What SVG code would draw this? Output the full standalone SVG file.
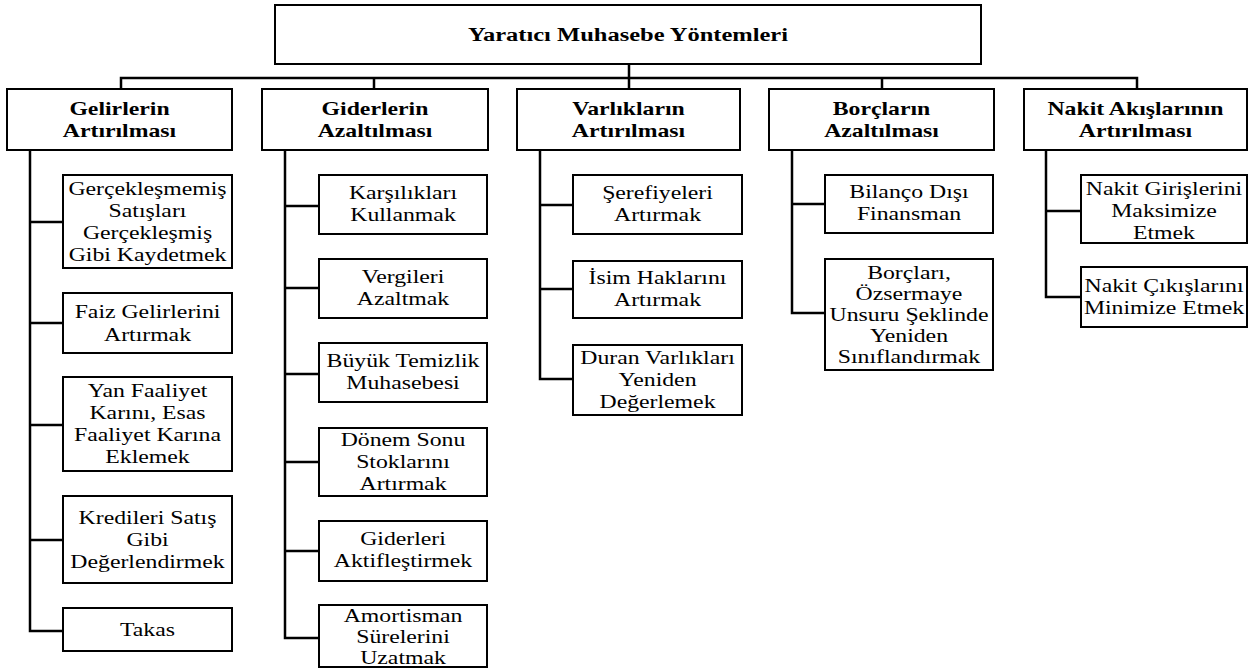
<svg xmlns="http://www.w3.org/2000/svg" width="1250" height="668" viewBox="0 0 1250 668">
<style>
.box{fill:#fff;stroke:#000;stroke-width:2}
.c{fill:none;stroke:#000;stroke-width:2.5}
text{font-family:'Liberation Serif','DejaVu Serif',serif;font-size:19px;fill:#000;text-anchor:middle}
.b{font-weight:bold}
.t{font-size:19.6px}
</style>
<rect width="1250" height="668" fill="#fff"/>
<g id="connectors">
<path class="c" d="M629 64V78M121 89V78H1137V89M374 78V89M629 78V89M882 78V89"/>
<path class="c" d="M30 150V631H63M30 222H63M30 323H63M30 425H63M30 540H63"/>
<path class="c" d="M285 150V638H319M285 206H319M285 288H319M285 374H319M285 462H319M285 551H319"/>
<path class="c" d="M540 150V379H573M540 205H573M540 289H573"/>
<path class="c" d="M792 150V313H825M792 204H825"/>
<path class="c" d="M1046 150V297H1081M1046 211H1081"/>
</g>
<g id="root"><rect class="box" x="275" y="5" width="706" height="59"/><text class="b t" transform="translate(628 0) scale(1.25 1)"><tspan x="0" y="41">Yaratıcı Muhasebe Yöntemleri</tspan></text></g>
<g id="cat1"><rect class="box" x="7" y="89" width="225" height="61"/><text class="b" transform="translate(119.5 0) scale(1.25 1)"><tspan x="0" y="115">Gelirlerin</tspan><tspan x="0" y="137">Artırılması</tspan></text></g>
<g id="cat2"><rect class="box" x="262" y="89" width="226" height="61"/><text class="b" transform="translate(375 0) scale(1.25 1)"><tspan x="0" y="115">Giderlerin</tspan><tspan x="0" y="137">Azaltılması</tspan></text></g>
<g id="cat3"><rect class="box" x="517" y="89" width="223" height="61"/><text class="b" transform="translate(628.5 0) scale(1.25 1)"><tspan x="0" y="115">Varlıkların</tspan><tspan x="0" y="137">Artırılması</tspan></text></g>
<g id="cat4"><rect class="box" x="769" y="89" width="225" height="61"/><text class="b" transform="translate(881.5 0) scale(1.25 1)"><tspan x="0" y="115">Borçların</tspan><tspan x="0" y="137">Azaltılması</tspan></text></g>
<g id="cat5"><rect class="box" x="1024" y="89" width="223" height="61"/><text class="b" transform="translate(1135.5 0) scale(1.25 1)"><tspan x="0" y="115">Nakit Akışlarının</tspan><tspan x="0" y="137">Artırılması</tspan></text></g>

<g id="g1"><rect class="box" x="63" y="175" width="169" height="93"/><text transform="translate(147.5 0) scale(1.25 1)"><tspan x="0" y="195">Gerçekleşmemiş</tspan><tspan x="0" y="217">Satışları</tspan><tspan x="0" y="239">Gerçekleşmiş</tspan><tspan x="0" y="261">Gibi Kaydetmek</tspan></text></g>
<g id="g2"><rect class="box" x="63" y="293" width="169" height="60"/><text transform="translate(147.5 0) scale(1.25 1)"><tspan x="0" y="318">Faiz Gelirlerini</tspan><tspan x="0" y="341">Artırmak</tspan></text></g>
<g id="g3"><rect class="box" x="63" y="377" width="169" height="94"/><text transform="translate(147.5 0) scale(1.25 1)"><tspan x="0" y="397">Yan Faaliyet</tspan><tspan x="0" y="419">Karını, Esas</tspan><tspan x="0" y="441">Faaliyet Karına</tspan><tspan x="0" y="463">Eklemek</tspan></text></g>
<g id="g4"><rect class="box" x="63" y="496" width="169" height="87"/><text transform="translate(147.5 0) scale(1.25 1)"><tspan x="0" y="524">Kredileri Satış</tspan><tspan x="0" y="546">Gibi</tspan><tspan x="0" y="568">Değerlendirmek</tspan></text></g>
<g id="g5"><rect class="box" x="63" y="608" width="169" height="43"/><text transform="translate(147.5 0) scale(1.25 1)"><tspan x="0" y="636">Takas</tspan></text></g>

<g id="d1"><rect class="box" x="319" y="175" width="168" height="59"/><text transform="translate(403 0) scale(1.25 1)"><tspan x="0" y="199">Karşılıkları</tspan><tspan x="0" y="221">Kullanmak</tspan></text></g>
<g id="d2"><rect class="box" x="319" y="259" width="168" height="59"/><text transform="translate(403 0) scale(1.25 1)"><tspan x="0" y="283">Vergileri</tspan><tspan x="0" y="305">Azaltmak</tspan></text></g>
<g id="d3"><rect class="box" x="319" y="343" width="168" height="59"/><text transform="translate(403 0) scale(1.25 1)"><tspan x="0" y="367">Büyük Temizlik</tspan><tspan x="0" y="389">Muhasebesi</tspan></text></g>
<g id="d4"><rect class="box" x="319" y="428" width="168" height="68"/><text transform="translate(403 0) scale(1.25 1)"><tspan x="0" y="446">Dönem Sonu</tspan><tspan x="0" y="468">Stoklarını</tspan><tspan x="0" y="490">Artırmak</tspan></text></g>
<g id="d5"><rect class="box" x="319" y="521" width="168" height="60"/><text transform="translate(403 0) scale(1.25 1)"><tspan x="0" y="545">Giderleri</tspan><tspan x="0" y="567">Aktifleştirmek</tspan></text></g>
<g id="d6"><rect class="box" x="319" y="605" width="168" height="62"/><text transform="translate(403 0) scale(1.25 1)"><tspan x="0" y="622">Amortisman</tspan><tspan x="0" y="643">Sürelerini</tspan><tspan x="0" y="664">Uzatmak</tspan></text></g>

<g id="v1"><rect class="box" x="573" y="175" width="169" height="59"/><text transform="translate(657.5 0) scale(1.25 1)"><tspan x="0" y="199">Şerefiyeleri</tspan><tspan x="0" y="221">Artırmak</tspan></text></g>
<g id="v2"><rect class="box" x="573" y="261" width="169" height="57"/><text transform="translate(657.5 0) scale(1.25 1)"><tspan x="0" y="284">İsim Haklarını</tspan><tspan x="0" y="306">Artırmak</tspan></text></g>
<g id="v3"><rect class="box" x="573" y="345" width="169" height="70"/><text transform="translate(657.5 0) scale(1.25 1)"><tspan x="0" y="364">Duran Varlıkları</tspan><tspan x="0" y="386">Yeniden</tspan><tspan x="0" y="408">Değerlemek</tspan></text></g>

<g id="b1"><rect class="box" x="825" y="175" width="168" height="58"/><text transform="translate(909 0) scale(1.25 1)"><tspan x="0" y="198">Bilanço Dışı</tspan><tspan x="0" y="220">Finansman</tspan></text></g>
<g id="b2"><rect class="box" x="825" y="259" width="168" height="111"/><text transform="translate(909 0) scale(1.25 1)"><tspan x="0" y="279">Borçları,</tspan><tspan x="0" y="300">Özsermaye</tspan><tspan x="0" y="321">Unsuru Şeklinde</tspan><tspan x="0" y="342">Yeniden</tspan><tspan x="0" y="363">Sınıflandırmak</tspan></text></g>

<g id="n1"><rect class="box" x="1081" y="175" width="166" height="68"/><text transform="translate(1164 0) scale(1.25 1)"><tspan x="0" y="195">Nakit Girişlerini</tspan><tspan x="0" y="217">Maksimize</tspan><tspan x="0" y="239">Etmek</tspan></text></g>
<g id="n2"><rect class="box" x="1081" y="267" width="166" height="60"/><text transform="translate(1164 0) scale(1.25 1)"><tspan x="0" y="292">Nakit Çıkışlarını</tspan><tspan x="0" y="314">Minimize Etmek</tspan></text></g>
</svg>
